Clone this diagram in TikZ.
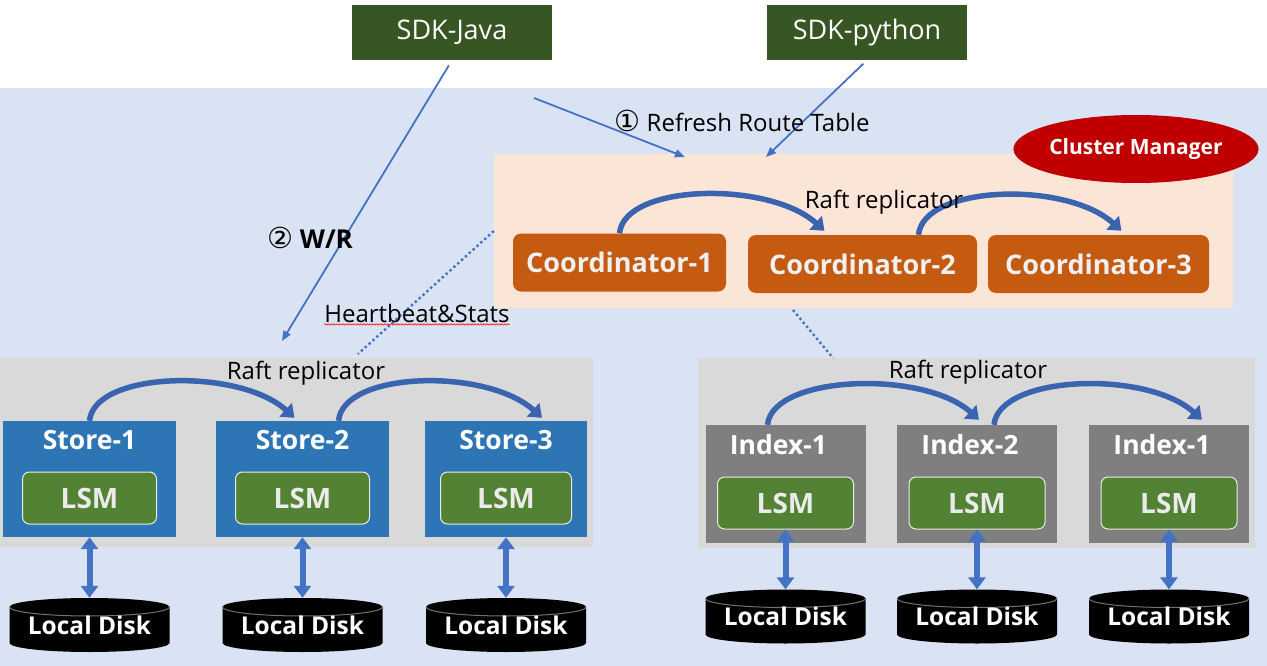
\documentclass[tikz,border=0pt]{standalone}
\usepackage{fontspec}
\setmainfont{Open Sans}
\newfontfamily\circfont{DejaVu Sans}
\usetikzlibrary{positioning, arrows.meta, shapes.geometric, decorations.pathmorphing}

\definecolor{paneblue}{HTML}{DAE3F3}
\definecolor{peach}{HTML}{FBE5D6}
\definecolor{panegray}{HTML}{D9D9D9}
\definecolor{coordorange}{HTML}{C55A11}
\definecolor{storeblue}{HTML}{2E75B6}
\definecolor{indexgray}{HTML}{7F7F7F}
\definecolor{lsmgreen}{HTML}{548235}
\definecolor{sdkgreen}{HTML}{375623}
\definecolor{cmred}{HTML}{C00000}
\definecolor{linkblue}{HTML}{4472C4}
\definecolor{raftblue}{HTML}{3A63B0}

\newcommand{\fsz}[1]{\fontsize{#1}{#1}\selectfont}

\tikzset{sdk/.style={fill=sdkgreen, text=white, minimum width=200pt, minimum height=55pt, inner sep=0pt, font=\fsz{27}},
	coord/.style={fill=coordorange, rounded corners=8pt, text=white!94!black, minimum height=58pt, inner sep=0pt, font=\bfseries\fsz{27}},
	store/.style={fill=storeblue, minimum height=116pt, inner sep=0pt},
	index/.style={fill=indexgray, minimum height=118pt, inner sep=0pt},
	head/.style={text=white, font=\bfseries\fsz{26.5}, inner sep=0pt},
	lsm/.style={fill=lsmgreen, draw=white!85!lsmgreen, line width=1pt, rounded corners=7pt, minimum height=52pt, inner sep=0pt, text=white!92!black, font=\bfseries\fsz{28}},
	disk/.style={fill=paneblue, minimum width=160pt, minimum height=54pt, inner sep=0pt, text=white, font=\bfseries\fsz{24.5},
		path picture={
			\fill[black] ([yshift=-9pt]path picture bounding box.north west) -- ([yshift=9pt]path picture bounding box.south west)
				arc[start angle=180, end angle=360, x radius=80pt, y radius=9pt]
				-- ([yshift=-9pt]path picture bounding box.north east)
				arc[start angle=0, end angle=180, x radius=80pt, y radius=9pt] -- cycle;
			\draw[black!55, line width=1pt] ([yshift=-9pt]path picture bounding box.north west)
				arc[start angle=180, end angle=360, x radius=80pt, y radius=9pt];}},
	sdkarrow/.style={draw=linkblue, line width=1.8pt, -{Triangle[length=10pt,width=8pt]}},
	beat/.style={draw=linkblue, line width=2.4pt, dash pattern=on 2.4pt off 2.8pt},
	raft/.style={draw=raftblue, line width=5.5pt, -{Triangle[width=18pt,length=12pt]},
		to path={.. controls +(5,-50) and +(-55,-50) .. (\tikztotarget)}},
	io/.style={draw=linkblue, line width=6pt, {Triangle[width=17pt,length=12pt]}-{Triangle[width=17pt,length=12pt]}},
	caption/.style={inner sep=0pt, font=\fsz{24}}}

\begin{document}
\begin{tikzpicture}[x=1pt, y=-1pt]
	\useasboundingbox (0,0) rectangle (1267,666);
	\fill[paneblue] (0,88) rectangle (1267,666);

	\node[sdk] (java) at (452,32.5) {SDK-Java};
	\node[sdk] (python) at (867,32.5) {SDK-python};

	% coordinators
	\node[fill=peach, minimum width=739pt, minimum height=154pt, inner sep=0pt] (cbox) at (863.5,231) {};
	\node[ellipse, fill=cmred, minimum width=232pt, minimum height=68pt, inner sep=0pt, text=white, font=\bfseries\fsz{21}] (cm) at (1136,149) {Cluster Manager};
	\node[coord, minimum width=213pt] (c1) at (619.5,262.5) {Coordinator-1};
	\node[coord, minimum width=229pt] (c2) at (862.5,264) {Coordinator-2};
	\node[coord, minimum width=221pt] (c3) at (1098.5,264) {Coordinator-3};
	\draw[raft] (c1.north) to ([xshift=-38pt,yshift=4pt]c2.north);
	\draw[raft] ([xshift=56pt]c2.north) to ([xshift=23pt,yshift=4pt]c3.north);
	\node[caption] (rr1) at (884,202) {Raft replicator};

	% stores
	\node[fill=panegray, minimum width=593pt, minimum height=189pt, inner sep=0pt] (sbox) at (296.5,452.5) {};
	\foreach \i/\x/\w/\lw in {1/89.5/173/134, 2/302.5/173/134, 3/506/162/131}{
		\node[store, minimum width=\w pt] (s\i) at (\x,479) {};
		\node[head] (st\i) at (\x,440) {Store-\i};
		\node[lsm, minimum width=\lw pt] (sl\i) at (\x,498) {LSM};
		\node[disk] (sd\i) at (\x,625) {Local Disk};
		\draw[io] (sd\i.north) -- (s\i.south);
	}
	\draw[raft] (s1.north) to ([xshift=-8pt,yshift=3pt]s2.north);
	\draw[raft] ([xshift=36pt]s2.north) to ([xshift=36pt,yshift=3pt]s3.north);
	\node[caption] (rr2) at (306,373) {Raft replicator};

	% indexes
	\node[fill=panegray, minimum width=557pt, minimum height=190pt, inner sep=0pt] (ibox) at (976.5,453) {};
	\foreach \i/\x/\t in {1/785.5/Index-1, 2/977/Index-2, 3/1169/Index-1}{
		\node[index, minimum width=160pt] (x\i) at (\x,484) {};
		\node[head, xshift=-7pt] (xt\i) at (\x,445) {\t};
		\node[lsm, minimum width=136pt] (xl\i) at (\x,503) {LSM};
		\node[disk] (xd\i) at (\x,616.5) {Local Disk};
		\draw[io] (xd\i.north) -- (xl\i.south);
	}
	\draw[raft] ([xshift=-18pt]x1.north) to ([xshift=2pt,yshift=5pt]x2.north);
	\draw[raft] ([xshift=17pt]x2.north) to ([xshift=33pt,yshift=5pt]x3.north);
	\node[caption] (rr3) at (968,372) {Raft replicator};

	% requests and heartbeats
	\coordinate (wr) at (282,341);
	\coordinate (rt) at (534,98);
	\coordinate (rtend) at (685,157);
	\coordinate (pyend) at (766,157);
	\coordinate (hb1) at (358,354);
	\coordinate (ib) at (793,310);
	\coordinate (hb2) at (833,358);
	\draw[sdkarrow, shorten <=6pt] (java.south) -- (wr);
	\draw[sdkarrow] (rt) -- (rtend);
	\draw[sdkarrow, shorten <=5pt] (python.south) -- (pyend);
	\draw[beat] (cbox.west) -- (hb1);
	\draw[beat] (ib) -- (hb2);

	\node[caption] (rtl) at (742,121) {{\circfont\fsz{29}①}\ Refresh Route Table};
	\node[caption, font=\bfseries\fsz{26}] (wrl) at (310,238) {{\circfont\mdseries\fsz{29}②}\ W/R};
	\node[caption] (hb) at (417,313) {Heartbeat\&Stats};
	\draw[red, line width=0.6pt, decorate, decoration={snake, amplitude=0.7pt, segment length=3pt}] ([yshift=-2pt]hb.south west) -- ([yshift=-2pt]hb.south east);
\end{tikzpicture}
\end{document}
